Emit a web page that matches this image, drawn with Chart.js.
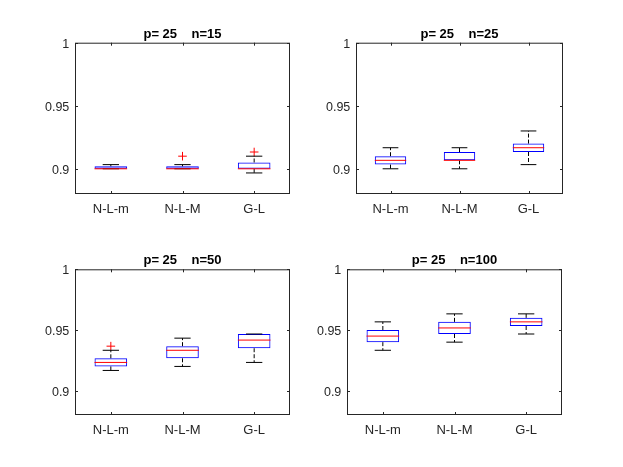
<!DOCTYPE html>
<html>
<head>
<meta charset="utf-8">
<script src="https://cdn.jsdelivr.net/npm/chart.js@4.4.1/dist/chart.umd.min.js"></script>
<style>
  body { margin: 0; background: #fff; }
  canvas { position: absolute; }
</style>
</head>
<body>
<canvas id="c0" width="311" height="233" style="left:0;top:0"></canvas>
<canvas id="c1" width="312" height="233" style="left:311px;top:0"></canvas>
<canvas id="c2" width="311" height="234" style="left:0;top:233px"></canvas>
<canvas id="c3" width="312" height="234" style="left:311px;top:233px"></canvas>
<script>
const categories = ["N-L-m", "N-L-M", "G-L"];
const titles = ["p= 25    n=15", "p= 25    n=25", "p= 25    n=50", "p= 25    n=100"];
const yTicks = [0.9, 0.95, 1];
const yTickLabels = ["0.9", "0.95", "1"];

// one row per panel (n=15, 25, 50, 100), one value per category
const whiskerLow = [
  [0.9, 0.9, 0.8967],
  [0.9, 0.9, 0.9033],
  [0.9167, 0.92, 0.9233],
  [0.9333, 0.94, 0.9467],
];
const quart1 = [
  [0.9, 0.9, 0.9],
  [0.9033, 0.9067, 0.9133],
  [0.92, 0.9267, 0.935],
  [0.94, 0.9467, 0.9533],
];
const medians = [
  [0.9, 0.9, 0.9],
  [0.9067, 0.9067, 0.9167],
  [0.9233, 0.9333, 0.9417],
  [0.945, 0.9517, 0.9567],
];
const quart3 = [
  [0.902, 0.902, 0.905],
  [0.91, 0.9133, 0.92],
  [0.9267, 0.9367, 0.9467],
  [0.95, 0.9567, 0.96],
];
const whiskerHigh = [
  [0.9033, 0.9033, 0.91],
  [0.9167, 0.9167, 0.93],
  [0.9333, 0.9433, 0.9467],
  [0.9567, 0.9633, 0.9633],
];
const outliers = [
  [null, 0.91, 0.9133],
  [null, null, null],
  [0.9367, null, null],
  [null, null, null],
];

// layout of each panel inside its canvas
const layouts = [
  { yWidth: 75, xHeight: 39, right: 21, titleTop: 26.4 },
  { yWidth: 45, xHeight: 39, right: 60, titleTop: 26.4 },
  { yWidth: 75, xHeight: 52, right: 21, titleTop: 20 },
  { yWidth: 36, xHeight: 52, right: 61, titleTop: 20 },
];

const axisColor = "#262626";
const font = "Liberation Sans, Arial, Helvetica, sans-serif";

const boxParts = {
  id: "boxParts",
  afterDatasetsDraw(chart, args, opts) {
    const p = opts.panel;
    const ctx = chart.ctx;
    const xs = chart.scales.x, ys = chart.scales.y;
    const bars = chart.getDatasetMeta(0).data;
    ctx.save();
    categories.forEach((c, i) => {
      const x = xs.getPixelForValue(i);
      const w = bars[i].width;
      const cap = w / 4;
      const lo = ys.getPixelForValue(whiskerLow[p][i]);
      const q1 = ys.getPixelForValue(quart1[p][i]);
      const q3 = ys.getPixelForValue(quart3[p][i]);
      const hi = ys.getPixelForValue(whiskerHigh[p][i]);
      const md = ys.getPixelForValue(medians[p][i]);
      ctx.strokeStyle = "#000";
      ctx.lineWidth = 1;
      ctx.setLineDash([4, 2]);
      ctx.beginPath();
      ctx.moveTo(x, q3); ctx.lineTo(x, hi);
      ctx.moveTo(x, q1); ctx.lineTo(x, lo);
      ctx.stroke();
      ctx.setLineDash([]);
      ctx.beginPath();
      ctx.moveTo(x - cap, hi); ctx.lineTo(x + cap, hi);
      ctx.moveTo(x - cap, lo); ctx.lineTo(x + cap, lo);
      ctx.stroke();
      ctx.strokeStyle = "#ff0000";
      ctx.beginPath();
      ctx.moveTo(x - w / 2, md); ctx.lineTo(x + w / 2, md);
      ctx.stroke();
    });
    ctx.restore();
  },
  afterDraw(chart) {
    const ctx = chart.ctx;
    const a = chart.chartArea;
    const xs = chart.scales.x, ys = chart.scales.y;
    const t = 3;
    ctx.save();
    ctx.strokeStyle = axisColor;
    ctx.lineWidth = 1;
    ctx.strokeRect(a.left + 0.5, a.top + 0.5, a.right - a.left - 1, a.bottom - a.top - 1);
    ctx.beginPath();
    categories.forEach((c, i) => {
      const x = Math.round(xs.getPixelForValue(i)) + 0.5;
      ctx.moveTo(x, a.bottom); ctx.lineTo(x, a.bottom - t);
      ctx.moveTo(x, a.top); ctx.lineTo(x, a.top + t);
    });
    yTicks.forEach(v => {
      const y = Math.round(ys.getPixelForValue(v)) + 0.5;
      ctx.moveTo(a.left, y); ctx.lineTo(a.left + t, y);
      ctx.moveTo(a.right, y); ctx.lineTo(a.right - t, y);
    });
    ctx.stroke();
    ctx.restore();
  }
};

titles.forEach((title, p) => {
  const L = layouts[p];
  new Chart(document.getElementById("c" + p), {
    type: "bar",
    data: {
      labels: categories,
      datasets: [
        {
          data: categories.map((c, i) => [quart1[p][i], quart3[p][i]]),
          backgroundColor: "rgba(0,0,0,0)",
          borderColor: "#0000ff",
          borderWidth: 1,
          borderSkipped: false,
          barPercentage: 0.455,
          categoryPercentage: 1,
          order: 2,
        },
        {
          type: "line",
          data: outliers[p],
          showLine: false,
          pointStyle: "cross",
          pointRadius: 4.3,
          pointBorderWidth: 1,
          borderColor: "#ff0000",
          backgroundColor: "#ff0000",
          order: 1,
        },
      ],
    },
    options: {
      responsive: false,
      animation: false,
      events: [],
      layout: { padding: { left: 0, right: L.right, top: 0, bottom: 0 } },
      plugins: {
        legend: { display: false },
        tooltip: { enabled: false },
        title: {
          display: true,
          text: title,
          fullSize: false,
          color: "#000",
          font: { family: font, size: 13, weight: "bold" },
          padding: { top: L.titleTop, bottom: 0.7 },
        },
        boxParts: { panel: p },
      },
      scales: {
        x: {
          type: "category",
          offset: true,
          grid: { display: false, drawTicks: false },
          border: { display: false },
          ticks: { color: axisColor, font: { family: font, size: 13 }, padding: 7.7, maxRotation: 0 },
          afterFit: s => { s.height = L.xHeight; },
        },
        y: {
          min: 0.88,
          max: 1,
          grid: { display: false, drawTicks: false },
          border: { display: false },
          afterBuildTicks: s => { s.ticks = yTicks.map(v => ({ value: v })); },
          ticks: {
            color: axisColor,
            font: { family: font, size: 12.5 },
            padding: 5.7,
            labelOffset: 1.5,
            callback: (v, i) => yTickLabels[i],
          },
          afterFit: s => { s.width = L.yWidth; },
        },
      },
    },
    plugins: [boxParts],
  });
});
</script>
</body>
</html>
